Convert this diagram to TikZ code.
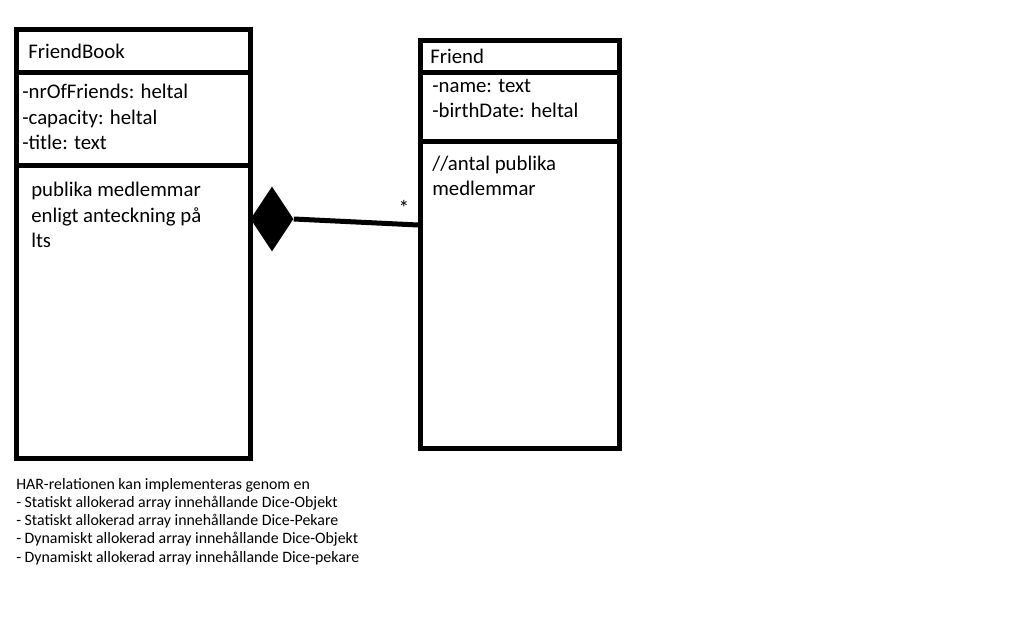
\documentclass[tikz,border=0pt]{standalone}
\usepackage{fontspec}
\setmainfont{Carlito}
\usetikzlibrary{shapes.geometric,positioning}

\begin{document}
\begin{tikzpicture}[
  x=0.75pt,y=-0.75pt,
  classbox/.style={draw,line width=3.75pt,anchor=north west,inner sep=0pt},
  member/.style={anchor=base west,align=left,inner sep=0pt,font=\fontsize{15.6}{19.4}\selectfont},
  compo/.style={diamond,fill=black,inner sep=0pt,minimum width=32.25pt,minimum height=48.75pt},
  assoc/.style={line width=3.75pt},
  note/.style={anchor=base west,align=left,inner sep=0pt,font=\fontsize{11.9}{13.65}\selectfont}
]
\useasboundingbox (0,0) rectangle (1024,630);
\node[classbox,minimum width=175.5pt,minimum height=322pt] (book) at (13.5,27) {};
\draw[assoc] (book.west |- 0,73) -- (book.east |- 0,73);
\draw[assoc] (book.west |- 0,166) -- (book.east |- 0,166);
\node[member] (bookname) at (28,59) {FriendBook};
\node[member] (bookattr) at (22,150) {-nrOfFriends: heltal\\-capacity: heltal\\-title: text};
\node[member] (bookops) at (31,248) {publika medlemmar\\enligt anteckning på\\lts};

\node[classbox,minimum width=149.25pt,minimum height=306pt] (friend) at (418,38) {};
\draw[assoc] (friend.west |- 0,73) -- (friend.east |- 0,73);
\draw[assoc] (friend.west |- 0,142) -- (friend.east |- 0,142);
\node[member] (friendname) at (430,64) {Friend};
\node[member] (friendattr) at (432,118) {-name: text\\-birthDate: heltal};
\node[member] (friendops) at (432,196) {//antal publika\\medlemmar};

\node[compo] (comp) at (272,219) {};
\coordinate (fend) at (418,225);
\draw[assoc] (comp.east) -- (fend);
\node[font=\fontsize{16}{18}\selectfont,inner sep=0pt] (mult) at (404,208) {*};

\node[note] (har) at (16,562) {HAR-relationen kan implementeras genom en\\- Statiskt allokerad array innehållande Dice-Objekt\\- Statiskt allokerad array innehållande Dice-Pekare\\- Dynamiskt allokerad array innehållande Dice-Objekt\\- Dynamiskt allokerad array innehållande Dice-pekare};
\end{tikzpicture}
\end{document}
